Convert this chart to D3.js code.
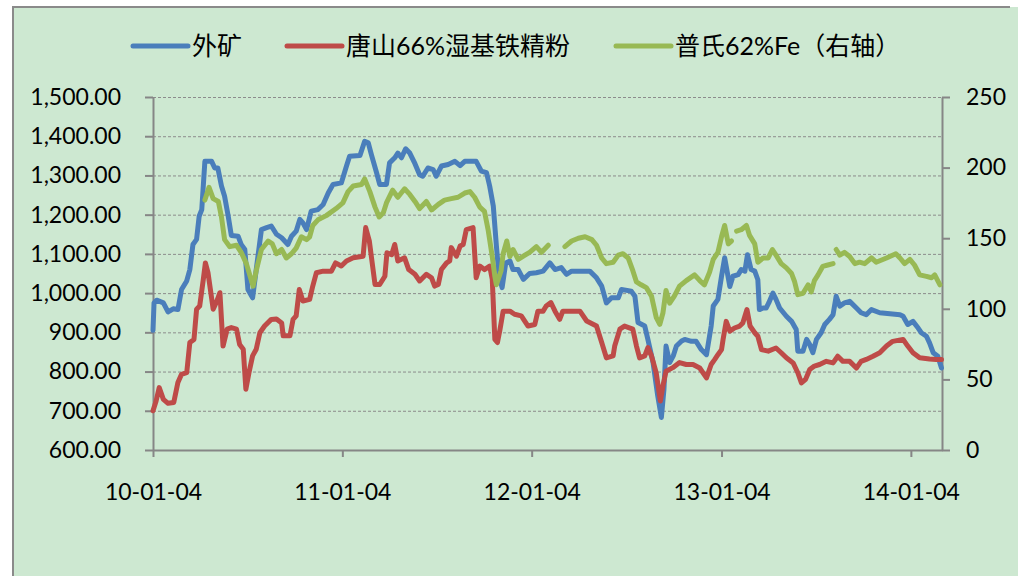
<!DOCTYPE html>
<html>
<head>
<meta charset="utf-8">
<script src="https://cdn.jsdelivr.net/npm/d3@7/dist/d3.min.js"></script>
<style>
  html, body { margin: 0; padding: 0; background: #fff; }
  svg { display: block; }
</style>
</head>
<body>
<div id="chart"></div>
<script>
// 外矿 (left axis)
var waikuang = [
  ["2010-01-04", 905], ["2010-01-06", 975], ["2010-01-11", 982], ["2010-01-24", 975], ["2010-02-02", 952],
  ["2010-02-12", 960], ["2010-02-21", 958], ["2010-02-28", 1009], ["2010-03-10", 1031], ["2010-03-16", 1060],
  ["2010-03-22", 1124], ["2010-03-29", 1137], ["2010-04-03", 1196], ["2010-04-08", 1213], ["2010-04-14", 1336],
  ["2010-04-27", 1336], ["2010-05-03", 1319], ["2010-05-09", 1319], ["2010-05-16", 1273], ["2010-05-22", 1247],
  ["2010-05-29", 1196], ["2010-06-04", 1147], ["2010-06-17", 1145], ["2010-06-23", 1124], ["2010-06-30", 1111],
  ["2010-07-06", 1009], ["2010-07-15", 988], ["2010-07-22", 1060], ["2010-08-01", 1162], ["2010-08-11", 1167],
  ["2010-08-20", 1171], ["2010-08-30", 1150], ["2010-09-09", 1141], ["2010-09-21", 1124], ["2010-09-28", 1145],
  ["2010-10-07", 1158], ["2010-10-14", 1188], ["2010-10-20", 1179], ["2010-10-27", 1162], ["2010-11-05", 1209],
  ["2010-11-18", 1213], ["2010-11-28", 1226], ["2010-12-08", 1256], ["2010-12-17", 1277], ["2011-01-02", 1281],
  ["2011-01-12", 1324], ["2011-01-18", 1349], ["2011-02-07", 1351], ["2011-02-16", 1387], ["2011-02-23", 1383],
  ["2011-03-01", 1353], ["2011-03-11", 1307], ["2011-03-17", 1277], ["2011-03-30", 1277], ["2011-04-05", 1332],
  ["2011-04-15", 1345], ["2011-04-21", 1357], ["2011-04-28", 1345], ["2011-05-06", 1368], ["2011-05-14", 1357],
  ["2011-05-24", 1330], ["2011-06-02", 1302], ["2011-06-08", 1298], ["2011-06-18", 1319], ["2011-06-28", 1315],
  ["2011-07-04", 1298], ["2011-07-14", 1324], ["2011-07-27", 1328], ["2011-08-09", 1336], ["2011-08-19", 1325],
  ["2011-08-28", 1336], ["2011-09-19", 1336], ["2011-09-29", 1311], ["2011-10-09", 1307], ["2011-10-15", 1273],
  ["2011-10-22", 1222], ["2011-10-28", 1120], ["2011-11-02", 1043], ["2011-11-08", 1014], ["2011-11-15", 1077],
  ["2011-11-23", 1082], ["2011-11-29", 1060], ["2011-12-09", 1060], ["2011-12-19", 1035], ["2011-12-31", 1050],
  ["2012-01-13", 1052], ["2012-01-26", 1056], ["2012-02-08", 1077], ["2012-02-18", 1060], ["2012-03-01", 1065],
  ["2012-03-11", 1048], ["2012-03-21", 1056], ["2012-04-25", 1056], ["2012-05-08", 1039], ["2012-05-18", 1018],
  ["2012-05-27", 975], ["2012-06-06", 988], ["2012-06-19", 988], ["2012-06-25", 1009], ["2012-07-14", 1005],
  ["2012-07-21", 992], ["2012-07-27", 925], ["2012-08-09", 916], ["2012-08-15", 882], ["2012-08-25", 823],
  ["2012-09-03", 738], ["2012-09-10", 683], ["2012-09-15", 755], ["2012-09-19", 865], ["2012-09-26", 823],
  ["2012-10-03", 840], ["2012-10-09", 865], ["2012-10-19", 878], ["2012-10-25", 882], ["2012-11-07", 877],
  ["2012-11-16", 877], ["2012-11-26", 856], ["2012-12-06", 843], ["2012-12-15", 916], ["2012-12-19", 967],
  ["2012-12-28", 984], ["2013-01-04", 1043], ["2013-01-10", 1090], ["2013-01-20", 1017], ["2013-01-26", 1043],
  ["2013-02-05", 1047], ["2013-02-11", 1060], ["2013-02-18", 1056], ["2013-02-23", 1098], ["2013-03-02", 1060],
  ["2013-03-09", 1056], ["2013-03-15", 1034], ["2013-03-18", 958], ["2013-03-25", 962], ["2013-03-31", 962],
  ["2013-04-05", 975], ["2013-04-13", 1000], ["2013-04-19", 984], ["2013-04-26", 962], ["2013-05-09", 941],
  ["2013-05-19", 928], ["2013-05-28", 907], ["2013-05-31", 852], ["2013-06-10", 852], ["2013-06-17", 882],
  ["2013-06-23", 869], ["2013-06-29", 848], ["2013-07-06", 882], ["2013-07-15", 899], ["2013-07-22", 920],
  ["2013-07-31", 933], ["2013-08-07", 945], ["2013-08-13", 992], ["2013-08-20", 967], ["2013-08-29", 975],
  ["2013-09-08", 979], ["2013-09-21", 962], ["2013-09-30", 950], ["2013-10-10", 945], ["2013-10-20", 958],
  ["2013-11-05", 950], ["2013-12-14", 945], ["2013-12-20", 941], ["2013-12-29", 920], ["2014-01-08", 928],
  ["2014-01-18", 911], ["2014-01-24", 899], ["2014-02-03", 890], ["2014-02-09", 873], ["2014-02-16", 848],
  ["2014-02-25", 839], ["2014-03-04", 809]
];

// 唐山66%湿基铁精粉 (left axis)
var tangshan = [
  ["2010-01-04", 700], ["2010-01-10", 725], ["2010-01-16", 759], ["2010-01-24", 729], ["2010-02-02", 719],
  ["2010-02-13", 721], ["2010-02-21", 772], ["2010-02-28", 793], ["2010-03-10", 797], ["2010-03-16", 874],
  ["2010-03-24", 882], ["2010-03-29", 959], ["2010-04-04", 967], ["2010-04-11", 1035], ["2010-04-15", 1077],
  ["2010-04-20", 1052], ["2010-04-30", 959], ["2010-05-06", 976], ["2010-05-13", 1001], ["2010-05-19", 865],
  ["2010-05-27", 908], ["2010-06-04", 912], ["2010-06-14", 908], ["2010-06-20", 869], ["2010-06-27", 857],
  ["2010-07-02", 755], ["2010-07-08", 797], ["2010-07-15", 840], ["2010-07-22", 857], ["2010-07-29", 899],
  ["2010-08-07", 916], ["2010-08-20", 933], ["2010-08-30", 934], ["2010-09-09", 924], ["2010-09-12", 891],
  ["2010-09-25", 891], ["2010-10-01", 933], ["2010-10-07", 942], ["2010-10-13", 1009], ["2010-10-20", 980],
  ["2010-11-02", 984], ["2010-11-08", 1018], ["2010-11-15", 1052], ["2010-11-28", 1056], ["2010-12-14", 1056],
  ["2010-12-22", 1077], ["2011-01-02", 1069], ["2011-01-12", 1082], ["2011-01-25", 1090], ["2011-02-13", 1094],
  ["2011-02-18", 1167], ["2011-02-25", 1133], ["2011-03-08", 1022], ["2011-03-17", 1022], ["2011-03-27", 1043],
  ["2011-03-31", 1103], ["2011-04-09", 1098], ["2011-04-15", 1124], ["2011-04-21", 1082], ["2011-05-04", 1090],
  ["2011-05-12", 1060], ["2011-05-24", 1048], ["2011-06-02", 1031], ["2011-06-15", 1048], ["2011-06-25", 1039],
  ["2011-07-01", 1018], ["2011-07-08", 1022], ["2011-07-14", 1060], ["2011-07-24", 1077], ["2011-07-30", 1082],
  ["2011-08-02", 1116], ["2011-08-12", 1094], ["2011-08-19", 1120], ["2011-08-25", 1124], ["2011-08-31", 1162],
  ["2011-09-13", 1167], ["2011-09-19", 1039], ["2011-09-26", 1069], ["2011-10-05", 1060], ["2011-10-15", 1069],
  ["2011-10-20", 1035], ["2011-10-25", 882], ["2011-10-30", 874], ["2011-11-04", 908], ["2011-11-10", 954],
  ["2011-11-23", 954], ["2011-12-02", 946], ["2011-12-15", 942], ["2011-12-28", 916], ["2012-01-10", 920],
  ["2012-01-16", 954], ["2012-01-26", 954], ["2012-02-01", 967], ["2012-02-10", 976], ["2012-02-18", 954],
  ["2012-02-27", 933], ["2012-03-04", 954], ["2012-04-06", 954], ["2012-04-19", 929], ["2012-05-08", 916],
  ["2012-05-18", 874], ["2012-05-27", 835], ["2012-06-09", 840], ["2012-06-12", 865], ["2012-06-22", 908],
  ["2012-07-01", 916], ["2012-07-17", 908], ["2012-07-24", 865], ["2012-07-30", 835], ["2012-08-09", 840],
  ["2012-08-15", 861], ["2012-08-22", 840], ["2012-08-31", 797], ["2012-09-08", 725], ["2012-09-13", 763],
  ["2012-09-19", 801], ["2012-10-02", 810], ["2012-10-15", 823], ["2012-10-28", 818], ["2012-11-10", 818],
  ["2012-11-23", 809], ["2012-12-06", 784], ["2012-12-15", 818], ["2012-12-22", 831], ["2012-12-28", 843],
  ["2013-01-04", 856], ["2013-01-07", 882], ["2013-01-13", 928], ["2013-01-20", 903], ["2013-01-29", 911],
  ["2013-02-08", 916], ["2013-02-14", 924], ["2013-02-22", 958], ["2013-02-28", 916], ["2013-03-09", 899],
  ["2013-03-15", 890], ["2013-03-22", 856], ["2013-04-04", 852], ["2013-04-19", 860], ["2013-04-29", 848],
  ["2013-05-09", 835], ["2013-05-22", 822], ["2013-05-31", 797], ["2013-06-07", 771], ["2013-06-15", 780],
  ["2013-06-23", 805], ["2013-07-02", 814], ["2013-07-12", 818], ["2013-07-25", 826], ["2013-08-07", 822],
  ["2013-08-16", 839], ["2013-08-26", 826], ["2013-09-08", 826], ["2013-09-21", 809], ["2013-09-30", 826],
  ["2013-10-10", 831], ["2013-10-23", 839], ["2013-11-05", 848], ["2013-11-18", 865], ["2013-11-30", 877],
  ["2013-12-20", 882], ["2013-12-29", 865], ["2014-01-08", 848], ["2014-01-21", 835], ["2014-02-09", 832],
  ["2014-02-22", 831], ["2014-03-04", 831]
];

// 普氏62%Fe (right axis), null = no quote
var platts = [
  ["2010-04-14", 177], ["2010-04-22", 186], ["2010-04-30", 178], ["2010-05-10", 176], ["2010-05-16", 165],
  ["2010-05-22", 149], ["2010-06-01", 144], ["2010-06-14", 145], ["2010-06-23", 140], ["2010-07-03", 132],
  ["2010-07-16", 116], ["2010-07-22", 127], ["2010-08-01", 142], ["2010-08-14", 148], ["2010-08-22", 146],
  ["2010-08-30", 139], ["2010-09-09", 142], ["2010-09-18", 136], ["2010-09-28", 139], ["2010-10-07", 143],
  ["2010-10-17", 151], ["2010-10-27", 149], ["2010-11-02", 151], ["2010-11-08", 159], ["2010-11-18", 163],
  ["2010-12-04", 166], ["2010-12-23", 171], ["2011-01-05", 175], ["2011-01-15", 183], ["2011-01-25", 187],
  ["2011-02-10", 188], ["2011-02-16", 192], ["2011-02-26", 183], ["2011-03-08", 172], ["2011-03-16", 165],
  ["2011-03-24", 168], ["2011-03-30", 175], ["2011-04-11", 184], ["2011-04-21", 179], ["2011-05-04", 185],
  ["2011-05-14", 181], ["2011-05-24", 176], ["2011-06-02", 171], ["2011-06-15", 176], ["2011-06-25", 170],
  ["2011-07-08", 174], ["2011-07-20", 177], ["2011-08-02", 178], ["2011-08-15", 179], ["2011-08-28", 182],
  ["2011-09-07", 183], ["2011-09-16", 179], ["2011-09-26", 172], ["2011-10-05", 169], ["2011-10-12", 156],
  ["2011-10-20", 137], ["2011-10-25", 123], ["2011-10-28", 117], ["2011-11-06", 127], ["2011-11-10", 139],
  ["2011-11-17", 148], ["2011-11-23", 137], ["2011-11-29", 142], ["2011-12-09", 135], ["2011-12-22", 138],
  ["2011-12-31", 140], ["2012-01-13", 144], ["2012-01-23", 140], ["2012-02-05", 145], ["2012-02-20", null],
  ["2012-03-08", 144], ["2012-03-21", 148], ["2012-04-03", 150], ["2012-04-16", 151], ["2012-04-29", 149],
  ["2012-05-08", 145], ["2012-05-18", 136], ["2012-05-27", 132], ["2012-06-09", 133], ["2012-06-19", 138],
  ["2012-06-28", 139], ["2012-07-08", 136], ["2012-07-17", 127], ["2012-07-24", 119], ["2012-08-02", 117],
  ["2012-08-12", 115], ["2012-08-22", 109], ["2012-08-31", 94], ["2012-09-07", 89], ["2012-09-13", 97],
  ["2012-09-19", 113], ["2012-09-26", 104], ["2012-10-05", 109], ["2012-10-15", 116], ["2012-10-28", 120],
  ["2012-11-13", 124], ["2012-11-23", 120], ["2012-12-02", 117], ["2012-12-12", 126], ["2012-12-19", 135],
  ["2012-12-28", 140], ["2013-01-04", 151], ["2013-01-10", 159], ["2013-01-17", 146], ["2013-01-23", 148],
  ["2013-01-28", null], ["2013-02-02", 155], ["2013-02-11", 156], ["2013-02-21", 159], ["2013-02-27", 152],
  ["2013-03-09", 146], ["2013-03-15", 133], ["2013-03-25", 136], ["2013-04-04", 136], ["2013-04-12", 142],
  ["2013-04-19", 138], ["2013-04-29", 132], ["2013-05-09", 129], ["2013-05-19", 125], ["2013-05-25", 119],
  ["2013-05-31", 110], ["2013-06-10", 111], ["2013-06-20", 117], ["2013-06-26", 112], ["2013-07-02", 120],
  ["2013-07-09", 124], ["2013-07-18", 130], ["2013-07-28", 131], ["2013-08-07", 132], ["2013-08-10", null],
  ["2013-08-13", 142], ["2013-08-20", 138], ["2013-08-29", 140], ["2013-09-08", 137], ["2013-09-18", 132],
  ["2013-09-27", 133], ["2013-10-07", 132], ["2013-10-20", 136], ["2013-10-29", 133], ["2013-11-18", 136],
  ["2013-12-06", 139], ["2013-12-14", 136], ["2013-12-23", 132], ["2014-01-02", 135], ["2014-01-11", 131],
  ["2014-01-21", 124], ["2014-02-03", 123], ["2014-02-13", 122], ["2014-02-19", 124], ["2014-03-01", 117]
];

var seriesNames = ["外矿", "唐山66%湿基铁精粉", "普氏62%Fe（右轴）"];
var seriesColors = ["#4a7ebb", "#be4b48", "#98b954"];
var xTickDates = ["2010-01-04", "2011-01-04", "2012-01-04", "2013-01-04", "2014-01-04"];
var leftTicks = [600, 700, 800, 900, 1000, 1100, 1200, 1300, 1400, 1500];
var rightTicks = [0, 50, 100, 150, 200, 250];

var width = 1034;
var height = 576;
var margin = { left: 153, right: 92, top: 97, bottom: 126 };
var parse = d3.timeParse("%Y-%m-%d");
var font = "Lato, 'Noto Sans CJK SC', sans-serif";

var svg = d3.select("#chart").append("svg")
    .attr("width", width)
    .attr("height", height);

// chart area background + frame
svg.append("rect")
    .attr("x", 12).attr("y", 7)
    .attr("width", 1006).attr("height", height)
    .attr("fill", "#cde8d1");
svg.append("path")
    .attr("d", "M13," + height + "V7H1010")
    .attr("fill", "none")
    .attr("stroke", "#8a8a8a")
    .attr("stroke-width", 2);

var x = d3.scaleTime()
    .domain([parse("2010-01-04"), parse("2014-03-05")])
    .range([margin.left, width - margin.right]);
var yL = d3.scaleLinear().domain([600, 1500]).range([height - margin.bottom, margin.top]);
var yR = d3.scaleLinear().domain([0, 250]).range([height - margin.bottom, margin.top]);

// gridlines
svg.append("g")
    .selectAll("line")
    .data(leftTicks.slice(1))
    .enter().append("line")
    .attr("x1", margin.left).attr("x2", width - margin.right)
    .attr("y1", function (d) { return yL(d) + 0.5; })
    .attr("y2", function (d) { return yL(d) + 0.5; })
    .attr("stroke", "#8c8c8c")
    .attr("stroke-width", 1)
    .attr("stroke-dasharray", "3,2");

function styleAxis(g) {
    g.selectAll("path, line").attr("stroke", "#868686").attr("stroke-width", 2);
    g.selectAll("text").attr("fill", "#000").style("font-family", font).style("font-size", "23px");
}

svg.append("g")
    .attr("transform", "translate(" + margin.left + ",0)")
    .call(d3.axisLeft(yL).tickValues(leftTicks).tickFormat(d3.format(",.2f")).tickSize(8).tickSizeOuter(0).tickPadding(24))
    .call(styleAxis);

svg.append("g")
    .attr("transform", "translate(" + (width - margin.right) + ",0)")
    .call(d3.axisRight(yR).tickValues(rightTicks).tickSize(8).tickSizeOuter(0).tickPadding(16))
    .call(styleAxis);

svg.append("g")
    .attr("transform", "translate(0," + (height - margin.bottom) + ")")
    .call(d3.axisBottom(x).tickValues(xTickDates.map(parse)).tickFormat(d3.timeFormat("%y-%m-%d")).tickSize(7).tickSizeOuter(0).tickPadding(27))
    .call(styleAxis);

// lines
var lineL = d3.line()
    .defined(function (d) { return d[1] != null; })
    .x(function (d) { return x(parse(d[0])); })
    .y(function (d) { return yL(d[1]); });
var lineR = d3.line()
    .defined(function (d) { return d[1] != null; })
    .x(function (d) { return x(parse(d[0])); })
    .y(function (d) { return yR(d[1]); });

var plots = [
    { data: waikuang, gen: lineL },
    { data: tangshan, gen: lineL },
    { data: platts, gen: lineR }
];
plots.forEach(function (p, i) {
    svg.append("path")
        .datum(p.data)
        .attr("d", p.gen)
        .attr("fill", "none")
        .attr("stroke", seriesColors[i])
        .attr("stroke-width", 5)
        .attr("stroke-linejoin", "round")
        .attr("stroke-linecap", "round");
});

// legend
var legendX = [133, 287, 616];
var legend = svg.append("g").selectAll("g")
    .data(seriesNames)
    .enter().append("g")
    .attr("transform", function (d, i) { return "translate(" + legendX[i] + ",46)"; });
legend.append("line")
    .attr("x1", 0).attr("x2", 55)
    .attr("stroke", function (d, i) { return seriesColors[i]; })
    .attr("stroke-width", 5)
    .attr("stroke-linecap", "round");
legend.append("text")
    .attr("x", 59)
    .attr("dy", "0.35em")
    .style("font-family", font)
    .style("font-size", "25px")
    .attr("fill", "#000")
    .text(function (d) { return d; });
</script>
</body>
</html>
